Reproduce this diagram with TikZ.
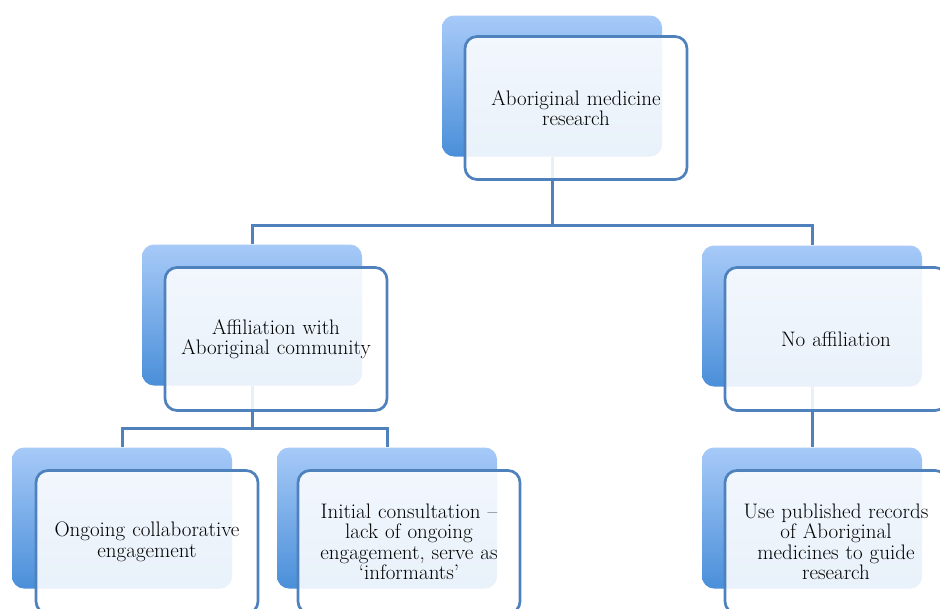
\documentclass[tikz,border=0pt]{standalone}
\usepackage{fontspec}

\definecolor{smartblue}{HTML}{4F81BD}
\definecolor{shadetop}{HTML}{A7CAF8}
\definecolor{shadebot}{HTML}{4A8FD9}

\tikzset{
  backbox/.style={rounded corners=12pt, minimum width=220pt, minimum height=141pt,
    top color=shadetop, bottom color=shadebot, draw=none},
  frontbox/.style={rounded corners=12pt, draw=smartblue, line width=2.7pt,
    fill=white, fill opacity=0.88, text opacity=1,
    minimum width=222pt, minimum height=143pt, text width=214pt, align=center,
    font=\fontsize{21}{20.5}\selectfont},
  link/.style={draw=smartblue, line width=3pt}
}

\begin{document}
\begin{tikzpicture}[x=1pt, y=-1pt]
    \useasboundingbox (0,0) rectangle (940,608);
    \clip (0,0) rectangle (940,608);

    % Shaded back cards
    \node[backbox] (topb) at (552, 86) {};
    \node[backbox] (affb) at (252, 315) {};
    \node[backbox] (nob) at (812, 316) {};
    \node[backbox] (ongb) at (122, 518) {};
    \node[backbox] (initb) at (387, 518) {};
    \node[backbox] (useb) at (812, 518) {};

    % Connectors
    \coordinate (topbar) at (552, 225);
    \draw[link] (topb.south) -- (topbar) -| (affb.north);
    \draw[link] (topbar) -| (nob.north);
    \coordinate (affbar) at (252, 428);
    \draw[link] (affb.south) -- (affbar) -| (ongb.north);
    \draw[link] (affbar) -| (initb.north);
    \draw[link] (nob.south) -- (useb.north);

    % Front cards with text
    \node[frontbox] (top) at (576, 108) {Aboriginal medicine\\research};
    \node[frontbox] (aff) at (276, 339) {Affiliation with\\Aboriginal community};
    \node[frontbox] (noaff) at (836, 339) {No affiliation};
    \node[frontbox] (ong) at (147, 542) {Ongoing collaborative\\engagement};
    \node[frontbox] (init) at (409, 542) {Initial consultation --\\lack of ongoing\\engagement, serve as\\`informants'};
    \node[frontbox] (use) at (836, 542) {Use published records\\of Aboriginal\\medicines to guide\\research};
\end{tikzpicture}
\end{document}
